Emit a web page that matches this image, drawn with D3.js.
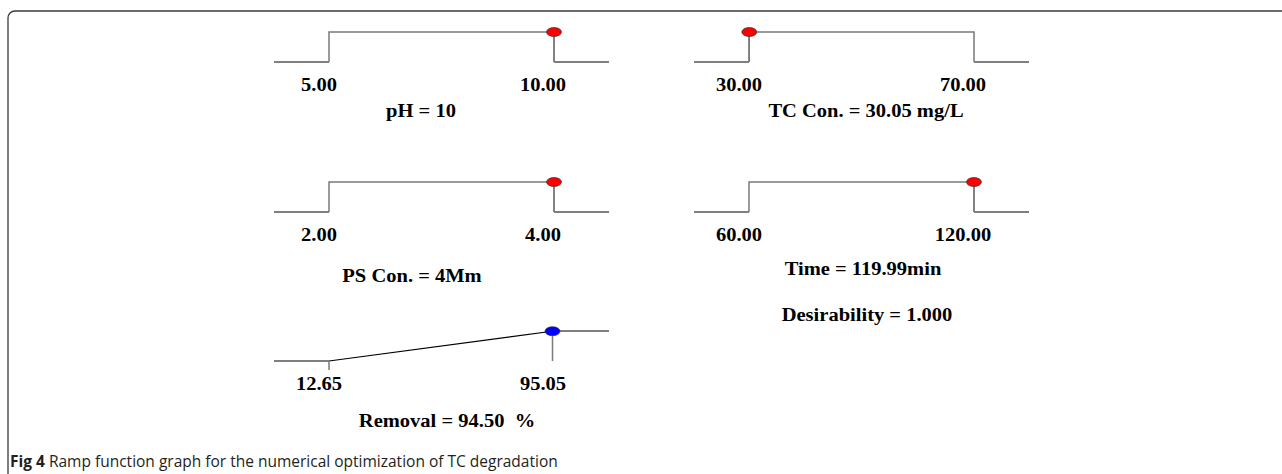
<!DOCTYPE html>
<html lang="en">
<head>
  <meta charset="UTF-8">
  <title>Ramp function graph</title>
  <script src="https://d3js.org/d3.v7.min.js"></script>
  <style>
    body { margin: 0; background: #fff; }
    .lbl { font-family: "Liberation Serif", "Times New Roman", serif; font-weight: bold; font-size: 19px; fill: #000; white-space: pre; }
    .cap { font-family: "Open Sans", "Noto Sans", sans-serif; font-size: 15.5px; fill: #231f20; }
  </style>
</head>
<body>
<svg></svg>
<script>
  // factor settings
  const names = ["pH", "TC Con.", "PS Con.", "Time", "Removal"];
  const lows = [5, 30, 2, 60, 12.65];
  const highs = [10, 70, 4, 120, 95.05];
  const optimum = [10, 30.05, 4, 119.99, 94.50];
  const goals = ["range", "range", "range", "range", "maximize"];
  const tickLabels = [["5.00", "10.00"], ["30.00", "70.00"], ["2.00", "4.00"], ["60.00", "120.00"], ["12.65", "95.05"]];
  const titles = ["pH = 10", "TC Con. = 30.05 mg/L", "PS Con. = 4Mm", "Time = 119.99min", "Removal = 94.50  %"];
  const desirabilityText = "Desirability = 1.000";

  const width = 1282, height = 474;

  // where each ramp sits on the page
  const layout = [
    {x0: 329, base: 62,  titleX: 421, titleY: 117},
    {x0: 749, base: 62,  titleX: 866, titleY: 117},
    {x0: 329, base: 212, titleX: 412, titleY: 282},
    {x0: 749, base: 212, titleX: 863, titleY: 275},
    {x0: 329, base: 361, titleX: 447, titleY: 427}
  ];
  const span = 225, pad = 55, rampH = 30;

  const svg = d3.select("svg")
    .attr("width", width)
    .attr("height", height);

  // frame with rounded top-left corner
  svg.append("path")
    .attr("d", "M1282,11 H15 A7,7 0 0 0 8,18 V474")
    .attr("fill", "none")
    .attr("stroke", "#3a3a3a")
    .attr("stroke-width", 1.3);

  function desire(goal, lo, hi, v) {
    if (goal === "range") return (v >= lo && v <= hi) ? 1 : 0;
    if (v <= lo) return 0;
    if (v >= hi) return 1;
    return (v - lo) / (hi - lo);
  }

  function stretchText(g, txt, x, y) {
    g.append("text")
      .attr("class", "lbl")
      .attr("text-anchor", "middle")
      .attr("transform", `translate(${x},${y}) scale(1.08,1)`)
      .text(txt);
  }

  names.forEach((name, i) => {
    const L = layout[i];
    const x = d3.scaleLinear().domain([lows[i], highs[i]]).range([L.x0, L.x0 + span]);
    const y = d3.scaleLinear().domain([0, 1]).range([L.base, L.base - rampH]);
    const xmin = x.invert(L.x0 - pad), xmax = x.invert(L.x0 + span + pad);
    const lo = lows[i], hi = highs[i];
    const line = d3.line().x(d => x(d[0])).y(d => y(d[1]));
    const g = svg.append("g");

    if (goals[i] === "range") {
      g.append("path").attr("d", line([[xmin, 0], [lo, 0]]))
        .attr("stroke", "#000").attr("stroke-width", 1.2).attr("fill", "none");
      g.append("path").attr("d", line([[hi, 0], [xmax, 0]]))
        .attr("stroke", "#000").attr("stroke-width", 1.2).attr("fill", "none");
      g.append("path").attr("d", line([[lo, 0], [lo, 1], [hi, 1], [hi, 0]]))
        .attr("stroke", "#7a7a7a").attr("stroke-width", 1.5).attr("fill", "none");
    } else {
      g.append("path").attr("d", line([[xmin, 0], [lo, 0], [hi, 1], [xmax, 1]]))
        .attr("stroke", "#000").attr("stroke-width", 1.1).attr("fill", "none");
      g.append("line")
        .attr("x1", x(lo)).attr("x2", x(lo))
        .attr("y1", y(0)).attr("y2", y(0) + 9)
        .attr("stroke", "#7a7a7a").attr("stroke-width", 1.5);
    }

    const d = desire(goals[i], lo, hi, optimum[i]);
    g.append("line")
      .attr("x1", x(optimum[i])).attr("x2", x(optimum[i]))
      .attr("y1", y(d)).attr("y2", y(0))
      .attr("stroke", "#7a7a7a").attr("stroke-width", 1.5);

    g.append("ellipse")
      .attr("cx", x(optimum[i]))
      .attr("cy", y(d))
      .attr("rx", 7.5).attr("ry", 4.5)
      .attr("fill", goals[i] === "maximize" ? "#0000ff" : "#ff0000")
      .attr("stroke", "#333").attr("stroke-width", 0.7);

    stretchText(g, tickLabels[i][0], x(lo) - 10, L.base + 29);
    stretchText(g, tickLabels[i][1], x(hi) - 11, L.base + 29);
    stretchText(g, titles[i], L.titleX, L.titleY);
  });

  stretchText(svg, desirabilityText, 867, 321);

  const cap = svg.append("text")
    .attr("class", "cap")
    .attr("x", 10)
    .attr("y", 467);
  cap.append("tspan").attr("font-weight", "bold").text("Fig 4");
  cap.append("tspan").text(" Ramp function graph for the numerical optimization of TC degradation");
</script>
</body>
</html>
